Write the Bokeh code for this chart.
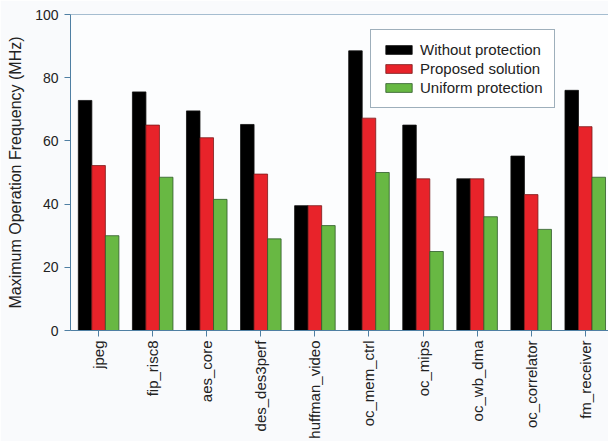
from bokeh.plotting import figure
from bokeh.models import Legend, LegendItem, FixedTicker, Range1d, Span
from bokeh.embed import file_html
from bokeh.resources import INLINE

categories = ["jpeg", "fip_risc8", "aes_core", "des_des3perf", "huffman_video",
              "oc_mem_ctrl", "oc_mips", "oc_wb_dma", "oc_correlator", "fm_receiver"]
without_protection = [72.8, 75.5, 69.5, 65.2, 39.5, 88.5, 65.0, 48.0, 55.2, 76.0]
proposed_solution = [52.2, 65.0, 61.0, 49.5, 39.5, 67.2, 48.0, 48.0, 43.0, 64.5]
uniform_protection = [30.0, 48.5, 41.5, 29.0, 33.2, 50.0, 25.0, 36.0, 32.0, 48.5]
series_names = ["Without protection", "Proposed solution", "Uniform protection"]
y_ticks = [0, 20, 40, 60, 80, 100]

FONT = "Liberation Sans"
AXIS_COLOR = "#4f7fa3"

p = figure(width=608, height=441, output_backend="svg", toolbar_location=None,
           x_range=Range1d(-0.52, 9.43), y_range=Range1d(0, 100),
           min_border_left=70, min_border_right=0, min_border_top=14, min_border_bottom=111,
           background_fill_color="#fcfdfe", border_fill_color="#f9fafc")
p.outline_line_color = None
p.grid.visible = False
p.add_layout(Span(location=100, dimension="width", line_color=AXIS_COLOR, line_width=1))

idx = list(range(len(categories)))
w = 0.25
colors = ["#000000", "#e8232a", "#68b843"]
lines = ["#111111", "#7a1a1a", "#2f5a2a"]
renderers = []
for k, vals in enumerate([without_protection, proposed_solution, uniform_protection]):
    xs = [i + (k - 1) * w for i in idx]
    r = p.vbar(x=xs, top=vals, width=w, bottom=0, fill_color=colors[k],
               line_color=lines[k], line_width=0.8)
    renderers.append(r)

p.xaxis.ticker = FixedTicker(ticks=idx)
p.xaxis.major_label_overrides = {i: c for i, c in enumerate(categories)}
p.xaxis.major_label_orientation = 1.5708
p.xaxis.minor_tick_line_color = None
p.yaxis.ticker = FixedTicker(ticks=y_ticks)
p.yaxis.minor_tick_line_color = None
p.yaxis.axis_label = "Maximum Operation Frequency (MHz)"

for ax in (p.xaxis[0], p.yaxis[0]):
    ax.axis_line_color = AXIS_COLOR
    ax.major_tick_line_color = AXIS_COLOR
    ax.major_tick_out = 6
    ax.major_tick_in = 0
    ax.major_label_text_font = FONT
    ax.major_label_text_font_size = "15px"
    ax.major_label_text_color = "#222222"
    ax.axis_label_text_font = FONT
    ax.axis_label_text_font_style = "normal"
    ax.axis_label_text_font_size = "16px"
    ax.axis_label_text_color = "#222222"
p.yaxis.major_label_text_font_size = "14px"
p.yaxis.major_label_standoff = 6
p.yaxis.axis_label_standoff = 8
p.xaxis.major_label_standoff = 4

legend = Legend(items=[LegendItem(label=series_names[k], renderers=[renderers[k]]) for k in range(3)],
                location=(300, 222))
legend.label_text_font = FONT
legend.label_text_font_size = "15px"
legend.label_text_color = "#222222"
legend.glyph_width = 33
legend.glyph_height = 11
legend.spacing = 2
legend.padding = 11
legend.margin = 0
legend.border_line_color = "#3e5f78"
legend.border_line_width = 1
legend.background_fill_color = "#ffffff"
legend.background_fill_alpha = 1
p.add_layout(legend)

open("out.html", "w").write(file_html(p, INLINE))
